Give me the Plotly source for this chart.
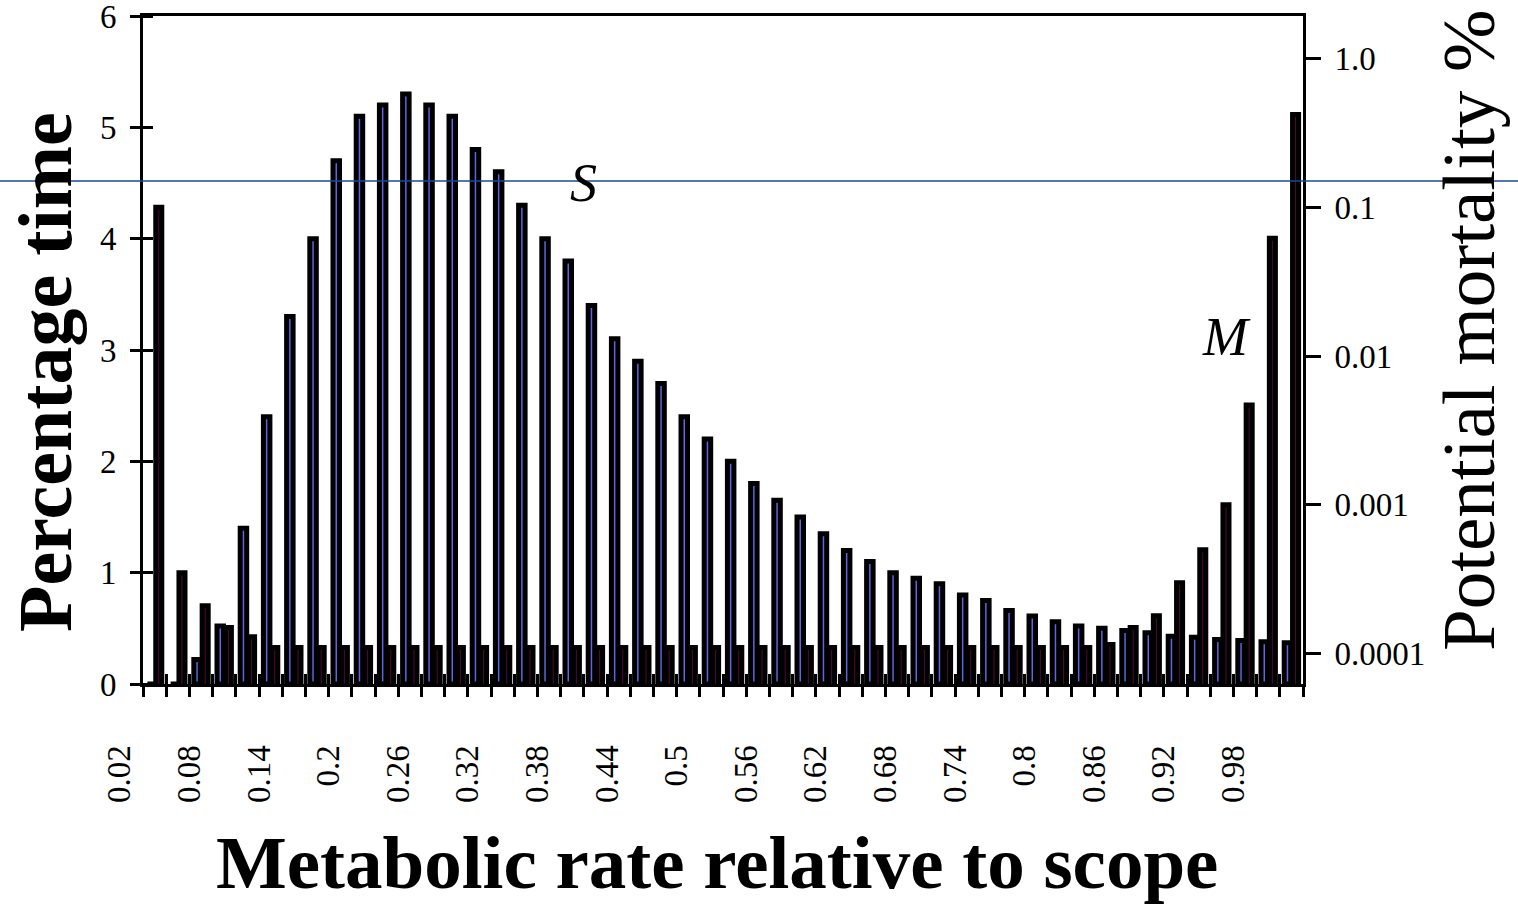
import plotly.graph_objects as go

# Metabolic rate bins (fraction of scope)
rate = [0.02, 0.04, 0.06, 0.08, 0.10, 0.12, 0.14, 0.16, 0.18, 0.20,
        0.22, 0.24, 0.26, 0.28, 0.30, 0.32, 0.34, 0.36, 0.38, 0.40,
        0.42, 0.44, 0.46, 0.48, 0.50, 0.52, 0.54, 0.56, 0.58, 0.60,
        0.62, 0.64, 0.66, 0.68, 0.70, 0.72, 0.74, 0.76, 0.78, 0.80,
        0.82, 0.84, 0.86, 0.88, 0.90, 0.92, 0.94, 0.96, 0.98, 1.00]

# S: percentage of time spent in each bin (left axis)
pct_time = [0.0, 0.0, 0.22, 0.52, 1.4, 2.4, 3.3, 4.0, 4.7, 5.1,
            5.2, 5.3, 5.2, 5.1, 4.8, 4.6, 4.3, 4.0, 3.8, 3.4,
            3.1, 2.9, 2.7, 2.4, 2.2, 2.0, 1.8, 1.65, 1.5, 1.35,
            1.2, 1.1, 1.0, 0.95, 0.9, 0.8, 0.75, 0.66, 0.61, 0.56,
            0.52, 0.50, 0.48, 0.46, 0.43, 0.42, 0.40, 0.39, 0.38, 0.37]

# M: potential mortality % in each bin (right axis, log scale)
mortality = [0.1, 0.00035, 0.00021, 0.00015, 0.00013, 0.00011, 0.00011, 0.00011, 0.00011, 0.00011,
             0.00011, 0.00011, 0.00011, 0.00011, 0.00011, 0.00011, 0.00011, 0.00011, 0.00011, 0.00011,
             0.00011, 0.00011, 0.00011, 0.00011, 0.00011, 0.00011, 0.00011, 0.00011, 0.00011, 0.00011,
             0.00011, 0.00011, 0.00011, 0.00011, 0.00011, 0.00011, 0.00011, 0.00011, 0.00011, 0.00011,
             0.00011, 0.000115, 0.00015, 0.00018, 0.0003, 0.0005, 0.001, 0.0047, 0.062, 0.42]

x_tick_labels = ["0.02", "0.08", "0.14", "0.2", "0.26", "0.32", "0.38", "0.44", "0.5",
                 "0.56", "0.62", "0.68", "0.74", "0.8", "0.86", "0.92", "0.98"]
left_ticks = [0, 1, 2, 3, 4, 5, 6]
right_ticks = [0.0001, 0.001, 0.01, 0.1, 1.0]
right_tick_text = ["0.0001", "0.001", "0.01", "0.1", "1.0"]

FONT = "Liberation Serif"
PLOT_L, PLOT_T, PLOT_W, PLOT_H = 143, 16, 1160, 668
n = len(rate)
cat_px = PLOT_W / n

idx = list(range(n))
bounds = [i - 0.5 for i in range(n + 1)]
label_pos = [rate.index(float(t)) for t in x_tick_labels]


def px_x(px):
    """Horizontal pixel position -> paper fraction."""
    return (px - PLOT_L) / PLOT_W


def px_y(px):
    """Vertical pixel position (from top) -> paper fraction."""
    return (PLOT_T + PLOT_H - px) / PLOT_H


fig = go.Figure()
fig.add_trace(go.Bar(
    x=idx, y=pct_time, name="S", xaxis="x", yaxis="y",
    width=0.28, offset=-0.31,
    marker=dict(color="#6464e0", line=dict(color="black", width=5)),
))
fig.add_trace(go.Bar(
    x=idx, y=mortality, name="M", xaxis="x2", yaxis="y2",
    width=0.26, offset=0.05,
    marker=dict(color="#4a0c34", line=dict(color="black", width=5)),
))

tick_font = dict(family=FONT, size=33, color="black")

fig.update_layout(
    width=1518, height=906, autosize=False,
    margin=dict(l=PLOT_L, r=1518 - PLOT_L - PLOT_W, t=PLOT_T, b=906 - PLOT_T - PLOT_H, pad=0),
    paper_bgcolor="white", plot_bgcolor="white",
    showlegend=False, barmode="overlay",
    xaxis=dict(
        range=[-0.5, n - 0.5], tickmode="array", tickvals=label_pos, ticktext=x_tick_labels,
        ticks="", tickangle=-90, ticklabelshift=int(round(-1.5 * cat_px)), ticklabelstandoff=45,
        ticklabeloverflow="allow",
        tickfont=tick_font, showline=True, linecolor="black", linewidth=3, mirror=True,
        showgrid=False, zeroline=False, automargin=False,
        minor=dict(tickmode="array", tickvals=bounds, ticks="outside", ticklen=10,
                   tickwidth=3, tickcolor="black", showgrid=False),
    ),
    xaxis2=dict(
        range=[-0.5, n - 0.5], overlaying="x", anchor="y", side="bottom",
        tickmode="array", tickvals=bounds, ticks="inside", ticklen=10, tickwidth=3,
        tickcolor="black", showticklabels=False, showline=False, showgrid=False,
        zeroline=False, automargin=False,
    ),
    yaxis=dict(
        range=[0, 6], tickmode="array", tickvals=left_ticks, ticks="outside",
        ticklen=10, tickwidth=3, tickcolor="black", tickfont=tick_font,
        showline=True, linecolor="black", linewidth=3, showgrid=False, zeroline=False,
        automargin=False, ticklabelstandoff=7, ticklabeloverflow="allow",
        minor=dict(tickmode="array", tickvals=[v + 1e-6 for v in left_ticks], ticks="inside",
                   ticklen=10, tickwidth=3, tickcolor="black", showgrid=False),
    ),
    yaxis2=dict(
        type="log", range=[-4.204, 0.286], overlaying="y", side="right", anchor="x",
        tickmode="array", tickvals=right_ticks, ticktext=right_tick_text,
        ticks="outside", ticklen=15, tickwidth=3, tickcolor="black", tickfont=tick_font,
        showline=True, linecolor="black", linewidth=3, showgrid=False, zeroline=False,
        automargin=False, ticklabelstandoff=7, ticklabeloverflow="allow",
    ),
    annotations=[
        # axis titles
        dict(text="<b>Percentage time</b>", textangle=-90, x=px_x(45), y=px_y(372),
             xref="paper", yref="paper", showarrow=False, xanchor="center", yanchor="middle",
             font=dict(family=FONT, size=76, color="black")),
        dict(text="Potential mortality %", textangle=-90, x=px_x(1468), y=px_y(330),
             xref="paper", yref="paper", showarrow=False, xanchor="center", yanchor="middle",
             font=dict(family=FONT, size=75, color="black")),
        dict(text="<b>Metabolic rate relative to scope</b>", x=px_x(717), y=px_y(862),
             xref="paper", yref="paper", showarrow=False, xanchor="center", yanchor="middle",
             font=dict(family=FONT, size=75, color="black")),
        # series labels
        dict(text="<i>S</i>", x=18.47, y=4.5, xref="x", yref="y", showarrow=False,
             font=dict(family=FONT, size=54, color="black")),
        dict(text="<i>M</i>", x=46.2, y=3.12, xref="x", yref="y", showarrow=False,
             font=dict(family=FONT, size=54, color="black")),
    ],
    shapes=[
        dict(type="line", xref="paper", yref="paper",
             x0=px_x(0), x1=px_x(1518), y0=px_y(181), y1=px_y(181),
             line=dict(color="#1c4896", width=1.5), layer="above"),
    ],
)

fig.write_html("out.html")
